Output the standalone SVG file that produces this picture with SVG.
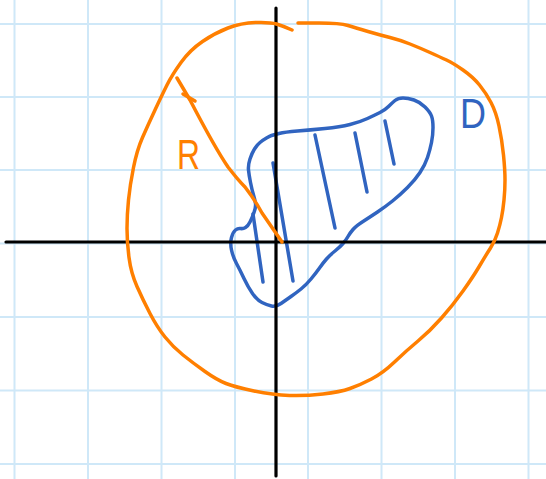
<svg xmlns="http://www.w3.org/2000/svg" width="546" height="479" viewBox="0 0 546 479">
<style>
.grid{stroke:#cfe8f8;stroke-width:2;fill:none}
.axis{stroke:#000;stroke-width:3.2;fill:none;stroke-linecap:round}
.orange{stroke:#ff7f00;stroke-width:3.5;fill:none;stroke-linecap:round;stroke-linejoin:round}
.blue{stroke:#3064c0;stroke-width:3.5;fill:none;stroke-linecap:round;stroke-linejoin:round}
.lbl{font-family:"Liberation Sans",Arial,sans-serif;font-size:42px}
</style>
<rect width="546" height="479" fill="#fff"/>
<g id="grid" class="grid">
<path d="M14.5 0V479M88 0V479M161.5 0V479M235 0V479M308 0V479M381.5 0V479M455 0V479M528.5 0V479"/>
<path d="M0 24H546M0 97H546M0 170H546M0 243.5H546M0 317H546M0 390.5H546M0 464H546"/>
</g>
<g id="region-D">
<path class="blue" d="M271.5 135.5 Q273 135 279 133.5 Q285 132 297.5 131 Q310 130 325 128.5 Q340 127 350 124.5 Q360 122 367.5 118.5 Q375 115 380 112.5 Q385 110 388.5 106.5 Q392 103 395 100.5 Q398 98 403 98 Q408 98 414 100 Q420 102 425 107 Q430 112 431.5 116 Q433 120 433 127.5 Q433 135 431.5 142.5 Q430 150 427.5 157.5 Q425 165 420 172.5 Q415 180 407.5 187.5 Q400 195 392.5 201 Q385 207 377.5 212 Q370 217 363 221.5 Q356 226 353 229.5 Q350 233 348 236.5 Q346 240 343 243.5 Q340 247 335 251 Q330 255 326.5 259 Q323 263 319.5 268 Q316 273 311 279 Q306 285 301 289 Q296 293 291 296.5 Q286 300 281 303.5 Q276 307 271.5 306 Q267 305 262 302.5 Q257 300 252.5 293.5 Q248 287 244 278.5 Q240 270 236.5 263.5 Q233 257 231.5 250 Q230 243 231.5 237.5 Q233 232 235.5 230 Q238 228 240.5 228.5 Q243 229 245.5 227.5 Q248 226 250 222 Q252 218 254 212.5 Q256 207 255.5 203.5 Q255 200 253.5 195 Q252 190 250.5 182.5 Q249 175 248.5 170 Q248 165 250 159 Q252 153 254.5 149 Q257 145 260 142.5 Q263 140 266.5 138 Q270 136 271.5 135.5 Z"/>
<path class="blue" d="M253 214L263 282M273 163L293 281M315 135L335 228M355 133L367 192M385 121L394 164"/>
<text class="lbl" x="460" y="128" fill="#3064c0" textLength="26" lengthAdjust="spacingAndGlyphs">D</text>
</g>
<g id="axes" class="axis">
<path d="M6 242H546M276 8V476"/>
</g>
<g id="region-R">
<path class="orange" d="M292 30 Q283 26 276.5 24 Q270 22 255.5 22.5 Q241 23 228 28 Q215 33 202.5 41.5 Q190 50 181 62.5 Q172 75 167 85 Q162 95 155 110 Q148 125 142.5 137.5 Q137 150 133.5 167.5 Q130 185 128.5 200 Q127 215 127 228.5 Q127 242 129 257.5 Q131 273 137 286.5 Q143 300 150 313.5 Q157 327 165 337 Q173 347 183 355 Q193 363 205 371.5 Q217 380 226 383.5 Q235 387 254 391 Q273 395 289.5 395.5 Q306 396 323 394 Q340 392 350 388.5 Q360 385 371.5 379 Q383 373 394.5 362 Q406 351 418 341 Q430 331 441.5 318 Q453 305 463 291 Q473 277 479.5 266 Q486 255 490.5 248 Q495 241 497.5 233 Q500 225 501.5 217.5 Q503 210 504 200 Q505 190 505 180 Q505 170 503.5 155 Q502 140 499 126 Q496 112 491 102.5 Q486 93 479.5 85 Q473 77 463 70 Q453 63 446.5 60 Q440 57 430 52.5 Q420 48 410 44 Q400 40 390 37.5 Q380 35 368 31.5 Q356 28 348 25.5 Q340 23 319 23 L298 23"/>
<path class="orange" d="M177 78 L190 100 Q215 148 228 167 Q238 180 245 187 Q255 200 262 213 L282 242"/>
<path class="orange" d="M183 94L195 101"/>
<text class="lbl" x="177" y="169" fill="#ff7f00" textLength="23" lengthAdjust="spacingAndGlyphs">R</text>
</g>
</svg>
